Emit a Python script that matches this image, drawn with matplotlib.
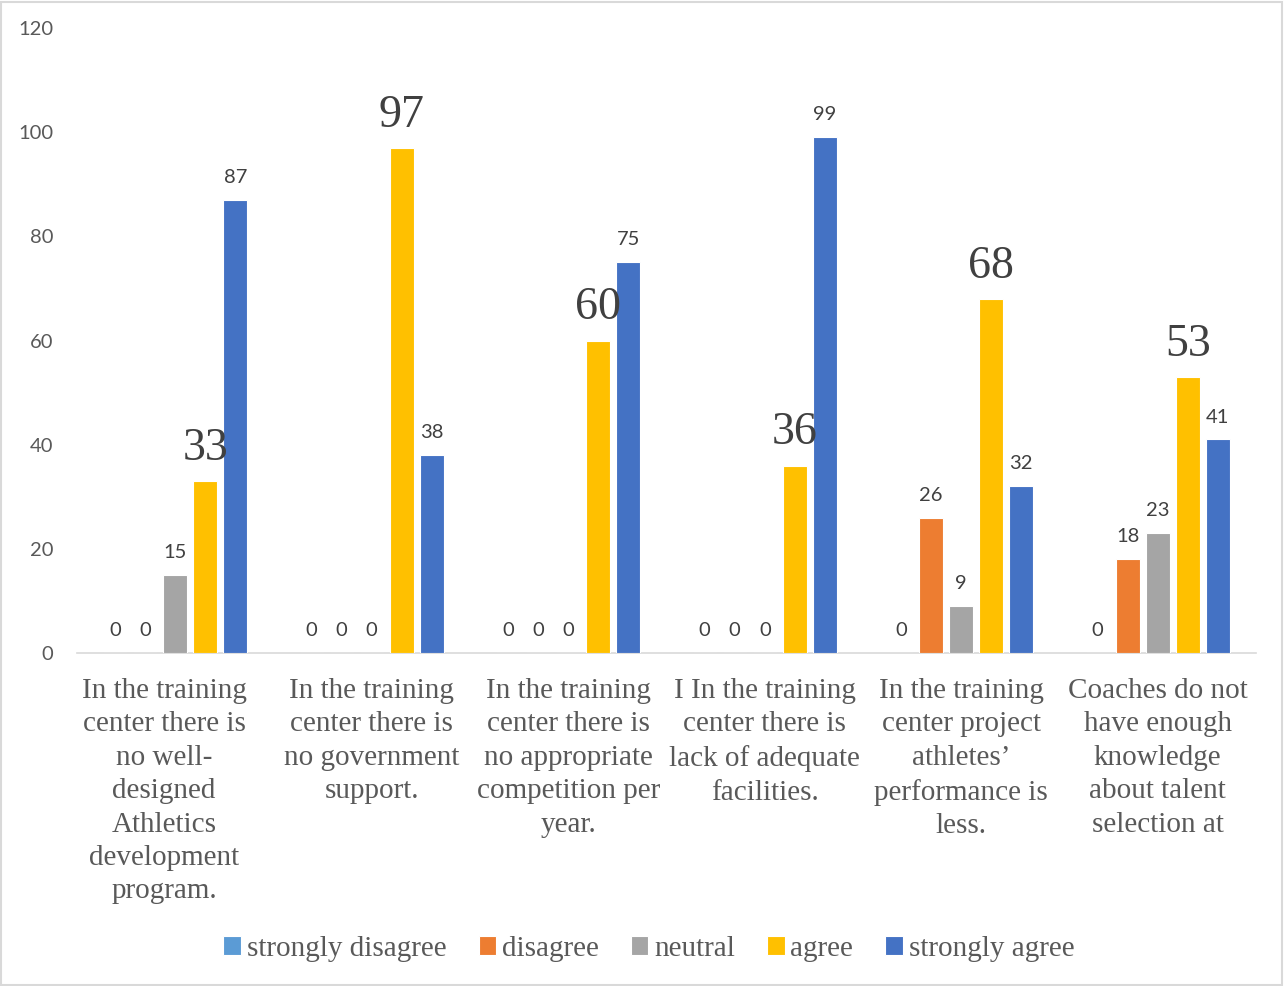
import matplotlib
matplotlib.use("Agg")
import matplotlib.pyplot as plt
from matplotlib.patches import Rectangle
import numpy as np

categories = [
    "In the training\ncenter there is\nno well-\ndesigned\nAthletics\ndevelopment\nprogram.",
    "In the training\ncenter there is\nno government\nsupport.",
    "In the training\ncenter there is\nno appropriate\ncompetition per\nyear.",
    "I In the training\ncenter there is\nlack of adequate\nfacilities.",
    "In the training\ncenter project\nathletes\u2019\nperformance is\nless.",
    "Coaches do not\nhave enough\nknowledge\nabout talent\nselection at",
]
series_names = ["strongly disagree", "disagree", "neutral", "agree", "strongly agree"]
strongly_disagree = [0, 0, 0, 0, 0, 0]
disagree = [0, 0, 0, 0, 26, 18]
neutral = [15, 0, 0, 0, 9, 23]
agree = [33, 97, 60, 36, 68, 53]
strongly_agree = [87, 38, 75, 99, 32, 41]
y_ticks = [0, 20, 40, 60, 80, 100, 120]

colors = ["#5B9BD5", "#ED7D31", "#A5A5A5", "#FFC000", "#4472C4"]
text_color = "#595959"
serif = "Liberation Serif"
sans = "Lato"

fig = plt.figure(figsize=(12.85, 9.86), dpi=100)
ax = fig.add_axes([77 / 1285, 1 - 653 / 986, (1256 - 77) / 1285, (653 - 28) / 986])

series = [strongly_disagree, disagree, neutral, agree, strongly_agree]
x = np.arange(len(categories))
step = 0.1527
width = 0.122

for k, (name, vals, col) in enumerate(zip(series_names, series, colors)):
    pos = x + (k - 2) * step
    ax.bar(pos, vals, width=width, color=col, edgecolor="white", linewidth=0.8,
           label=name, zorder=3)
    for xi, v in zip(pos, vals):
        if name == "agree":
            ax.annotate(f"{v}", xy=(xi, v), xytext=(0, 8), textcoords="offset points",
                        ha="center", va="bottom", fontsize=33, family=serif,
                        color="#404040", zorder=4)
        else:
            ax.annotate(f"{v}", xy=(xi, v), xytext=(0, 10), textcoords="offset points",
                        ha="center", va="bottom", fontsize=14.5, family=sans,
                        color="#404040", zorder=4)

ax.set_xlim(-0.5, len(categories) - 0.5)
ax.set_ylim(0, 120)
ax.set_yticks(y_ticks)
ax.set_yticklabels([str(t) for t in y_ticks], fontsize=14.5, family=sans, color=text_color)
ax.tick_params(axis="y", length=0, pad=17)
ax.set_xticks([])
for s in ["top", "right", "left"]:
    ax.spines[s].set_visible(False)
ax.spines["bottom"].set_color("#D9D9D9")
ax.spines["bottom"].set_linewidth(1.2)

# the first category label sits slightly left of its group centre
label_shift = [-8, 0, 0, 0, 0, 0]
for xi, cat, dx in zip(x, categories, label_shift):
    ax.annotate(cat, xy=(xi, 0), xycoords=("data", "axes fraction"),
                xytext=(dx, -18), textcoords="offset points",
                ha="center", va="top", multialignment="center",
                fontsize=21, family=serif, color=text_color, linespacing=1.37)

leg = fig.legend(loc="center", bbox_to_anchor=(0.505, 1 - 949 / 986), ncol=5,
                 frameon=False, handlelength=0.6, handleheight=0.6, handletextpad=0.2,
                 columnspacing=1.1, prop={"family": serif, "size": 21})
for t in leg.get_texts():
    t.set_color(text_color)

fig.add_artist(Rectangle((0.001, 0.001), 0.997, 0.997, transform=fig.transFigure,
                         fill=False, edgecolor="#D9D9D9", linewidth=1.5))

fig.savefig("out.png", dpi=100, facecolor="white")
